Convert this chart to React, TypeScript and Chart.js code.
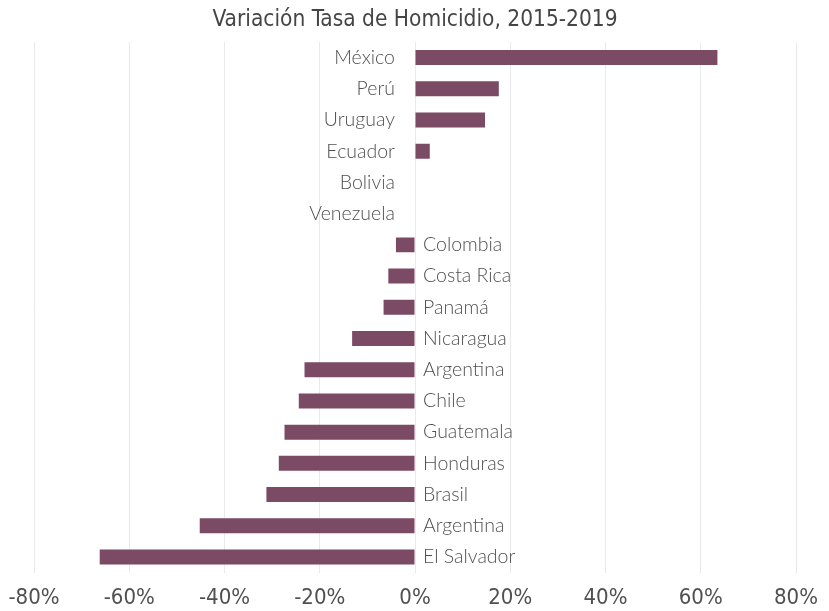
import React, { useEffect, useRef } from "react";
import { Chart, registerables } from "chart.js";

Chart.register(...registerables);

const countries = [
  "México", "Perú", "Uruguay", "Ecuador", "Bolivia", "Venezuela", "Colombia",
  "Costa Rica", "Panamá", "Nicaragua", "Argentina", "Chile", "Guatemala",
  "Honduras", "Brasil", "Argentina", "El Salvador",
];
const variation = [
  63.5, 17.6, 14.7, 3.1, 0, 0, -4.0, -5.6, -6.6, -13.2, -23.2, -24.4, -27.4,
  -28.6, -31.2, -45.2, -66.2,
];
const xTicks = [-80, -60, -40, -20, 0, 20, 40, 60, 80];
const titleText = "Variación Tasa de Homicidio, 2015-2019";

const BAR = "#7b4a65";
const TEXT = "#505050";
const COND = "'DejaVu Sans Condensed', 'DejaVu Sans', sans-serif";

const labelPlugin = {
  id: "zeroLabels",
  afterDatasetsDraw(chart: any) {
    const { ctx, scales } = chart;
    const x0 = scales.x.getPixelForValue(0);
    const meta = chart.getDatasetMeta(0);
    ctx.save();
    ctx.font = "300 19.5px 'Lato', 'DejaVu Sans', sans-serif";
    ctx.fillStyle = TEXT;
    ctx.textBaseline = "middle";
    meta.data.forEach((el: any, i: number) => {
      const v = variation[i];
      const y = el.y;
      if (v >= 0) {
        ctx.textAlign = "right";
        ctx.fillText(countries[i], x0 - 20, y);
      } else {
        ctx.textAlign = "left";
        ctx.fillText(countries[i], x0 + 8, y);
      }
    });
    ctx.restore();
  },
};

export default function App() {
  const ref = useRef<HTMLCanvasElement>(null);
  useEffect(() => {
    if (!ref.current) return;
    const chart = new Chart(ref.current, {
      type: "bar",
      data: {
        labels: countries,
        datasets: [
          {
            data: variation,
            backgroundColor: BAR,
            borderWidth: 0,
            barPercentage: 0.48,
            categoryPercentage: 1,
          },
        ],
      },
      options: {
        indexAxis: "y",
        animation: false,
        responsive: true,
        maintainAspectRatio: false,
        layout: { padding: { left: 8, right: 7, top: 0, bottom: -12 } },
        plugins: {
          legend: { display: false },
          tooltip: { enabled: false },
          title: {
            display: true,
            text: titleText,
            color: "#454545",
            font: { family: COND, size: 22.5, weight: "normal" },
            padding: { top: 7, bottom: 8 },
          },
        },
        scales: {
          y: { display: false },
          x: {
            min: -80,
            max: 80,
            afterBuildTicks: (scale: any) => {
              scale.ticks = xTicks.map((v) => ({ value: v }));
            },
            afterFit: (scale: any) => {
              scale.paddingLeft = 34;
              scale.paddingRight = 33;
            },
            ticks: {
              callback: (v: any) => `${v}%`,
              color: TEXT,
              font: { family: COND, size: 22 },
              padding: 12,
              maxRotation: 0,
            },
            grid: { color: "#e9e9e9", drawTicks: false, lineWidth: 1 },
            border: { display: false },
          },
        },
      },
      plugins: [labelPlugin],
    });
    return () => chart.destroy();
  }, []);
  return (
    <div style={{ position: "fixed", left: 0, top: 0, width: 829, height: 611, background: "#fff" }}>
      <canvas ref={ref} />
    </div>
  );
}
